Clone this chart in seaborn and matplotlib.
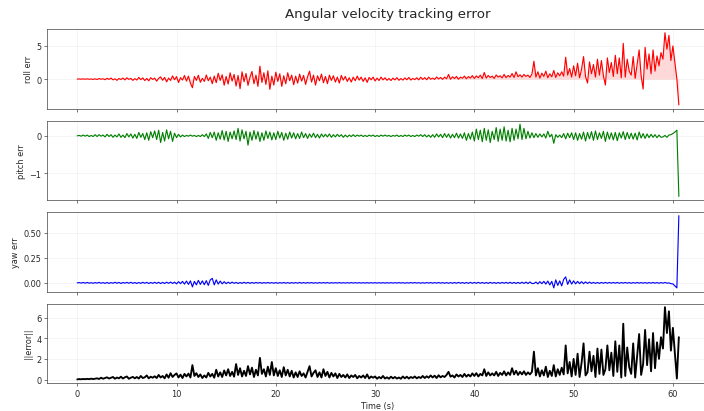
import numpy as np
import pandas as pd
import matplotlib
matplotlib.use("Agg")
import matplotlib.pyplot as plt
import matplotlib.ticker as mticker
import seaborn as sns

# samples every 0.2 s, 5 per second, two seconds per row (0 .. 60.6 s)
roll_err = [
    0.00, 0.02, -0.01, 0.03, -0.02,   0.04, -0.03, 0.02, -0.05, 0.04,
    -0.06, 0.08, -0.02, 0.05, -0.09,  0.12, -0.05, 0.16, -0.11, 0.04,
    -0.18, 0.09, -0.06, 0.15, -0.12,  0.20, -0.04, 0.10, -0.19, 0.07,
    -0.14, 0.25, -0.08, 0.18, -0.22,  0.10, -0.26, 0.21, -0.05, 0.14,
    -0.31, 0.12, 0.33, -0.18, 0.26,   -0.42, 0.15, -0.20, 0.48, -0.10,
    0.38, -0.52, 0.22, -0.15, 0.55,   -0.30, 0.45, -0.62, -1.30, 0.40,
    -0.20, 0.58, -0.48, 0.12, -0.35,  0.62, -0.25, 0.30, -0.70, 0.45,
    -0.55, 0.88, -0.20, 0.65, -0.92,  0.40, -0.75, 0.95, -0.30, 0.70,
    -1.05, 0.55, -1.45, 1.10, -0.40,  0.85, -0.95, 0.30, 1.15, -0.70,
    0.60, -1.10, 1.95, -0.50, 0.95,   -0.80, 1.25, -1.55, 0.45, -0.90,
    1.05, -0.35, 0.80, -1.10, 0.50,   -0.70, 0.95, -0.25, 0.60, -0.85,
    0.45, -0.60, 0.75, -0.30, 0.55,   -0.80, 0.35, 1.20, -0.45, 0.60,
    -0.90, 0.50, -0.25, 0.75, -0.55,  0.40, -0.70, 0.60, -0.20, 0.50,
    -0.45, 0.30, -0.60, 0.55, -0.15,  0.40, -0.35, 0.20, -0.45, 0.30,
    -0.25, 0.45, -0.15, 0.30, -0.35,  0.20, -0.50, 0.25, -0.10, 0.30,
    -0.28, 0.15, -0.22, 0.30, -0.12,  0.20, -0.18, 0.10, -0.22, 0.15,
    -0.12, 0.22, -0.18, 0.08, -0.15,  0.18, -0.10, 0.25, -0.14, 0.10,
    -0.08, 0.20, -0.12, 0.28, -0.05,  0.22, -0.10, 0.30, -0.02, 0.15,
    -0.05, 0.32, 0.02, 0.25, -0.04,   0.30, 0.05, 0.70, -0.02, 0.35,
    0.08, 0.40, -0.02, 0.30, 0.12,    0.45, 0.05, 0.38, 0.15, 0.52,
    0.10, 0.48, 0.20, 0.60, 0.08,     1.00, 0.15, 0.55, 0.25, 0.45,
    0.10, 0.62, 0.30, 0.50, 0.18,     0.70, 0.22, 0.55, 0.30, 0.85,
    0.25, 1.10, 0.35, 0.65, 0.30,     0.70, 0.40, 0.60, 0.25, 0.75,
    2.70, 0.30, 1.10, 0.15, 0.90,     0.40, 1.20, 0.20, 0.80, 0.35,
    1.30, 0.25, 0.95, 0.50, 1.10,     0.45, 3.30, 0.60, 1.60, 0.30,
    2.00, 0.50, 2.40, 0.20, 1.50,     3.40, 0.40, -0.60, 2.60, 0.80,
    2.20, 0.30, 3.00, 0.60, 2.80,     0.50, -0.90, 3.20, 1.00, 2.50,
    0.40, 3.60, 0.80, 3.20, 0.20,     5.40, 0.30, 3.00, 1.20, 0.60,
    3.40, 0.10, 2.20, 4.40, 0.50,     -1.50, 4.80, 1.50, 3.80, 0.80,
    4.40, 1.20, 3.50, 2.00, 4.00,     3.00, 7.00, 4.50, 6.60, 2.80,
    5.00, 2.50, 0.00, -3.90,
]

pitch_err = [
    0.00, 0.01, -0.01, 0.02, -0.01,   0.02, -0.02, 0.01, -0.02, 0.03,
    -0.02, 0.03, -0.01, 0.02, -0.03,  0.04, -0.02, 0.03, -0.04, 0.02,
    -0.03, 0.05, -0.04, 0.02, -0.05,  0.06, -0.03, 0.05, -0.06, 0.04,
    -0.07, 0.09, -0.04, 0.06, -0.10,  0.08, -0.12, 0.11, -0.05, 0.13,
    -0.10, 0.15, -0.18, 0.09, -0.14,  0.16, -0.08, 0.12, -0.15, 0.07,
    -0.05, 0.04, -0.03, 0.02, -0.02,  0.01, -0.01, 0.02, -0.01, 0.01,
    -0.02, 0.01, -0.02, 0.03, -0.02,  0.05, -0.07, 0.09, -0.05, 0.10,
    -0.12, 0.08, -0.09, 0.14, -0.11,  0.12, -0.15, 0.10, -0.08, 0.13,
    -0.10, 0.20, -0.14, 0.16, -0.08,  0.12, -0.25, 0.10, -0.12, 0.14,
    -0.09, 0.11, -0.15, 0.08, -0.12,  0.13, -0.07, 0.10, -0.11, 0.08,
    -0.10, 0.12, -0.06, 0.09, -0.12,  0.07, -0.09, 0.10, -0.06, 0.08,
    -0.08, 0.06, -0.07, 0.10, -0.05,  0.06, -0.07, 0.05, -0.04, 0.07,
    -0.05, 0.04, -0.06, 0.05, -0.03,  0.04, -0.03, 0.05, -0.04, 0.03,
    -0.03, 0.04, -0.02, 0.03, -0.04,  0.02, -0.03, 0.02, -0.02, 0.03,
    -0.02, 0.02, -0.01, 0.02, -0.02,  0.01, -0.02, 0.02, -0.01, 0.02,
    -0.02, 0.01, -0.02, 0.02, -0.01,  0.02, -0.01, 0.01, -0.02, 0.01,
    -0.01, 0.02, -0.02, 0.01, -0.02,  0.02, -0.01, 0.02, -0.02, 0.01,
    -0.02, 0.02, -0.01, 0.03, -0.02,  0.03, -0.03, 0.02, -0.04, 0.03,
    -0.04, 0.05, -0.03, 0.04, -0.05,  0.06, -0.04, 0.05, -0.06, 0.04,
    -0.05, 0.07, -0.06, 0.05, -0.07,  0.08, -0.12, 0.06, -0.09, 0.10,
    -0.14, 0.18, -0.10, 0.15, -0.16,  0.20, -0.12, 0.16, -0.18, 0.12,
    -0.10, 0.22, -0.15, 0.18, -0.12,  0.24, -0.14, 0.15, -0.16, 0.20,
    -0.12, 0.18, -0.08, 0.31, -0.10,  0.20, -0.08, 0.12, -0.06, 0.08,
    -0.05, 0.06, -0.04, 0.05, -0.03,  0.05, -0.06, 0.12, -0.03, 0.04,
    -0.20, 0.03, -0.04, 0.02, -0.05,  0.06, -0.08, 0.07, -0.05, 0.08,
    -0.10, 0.08, -0.12, 0.06, -0.09,  0.10, -0.14, 0.09, -0.08, 0.11,
    -0.12, 0.13, -0.10, 0.08, -0.07,  0.12, -0.15, 0.10, -0.09, 0.08,
    -0.11, 0.09, -0.13, 0.08, -0.06,  0.11, -0.10, 0.09, -0.08, 0.07,
    -0.09, 0.07, -0.11, 0.10, -0.06,  0.06, -0.07, 0.05, -0.05, 0.04,
    -0.04, 0.03, -0.05, 0.02, -0.04,  -0.03, 0.01, -0.04, 0.02, 0.03,
    0.06, 0.10, 0.15, -1.62,
]

yaw_err = [
    0.000, 0.003, -0.002, 0.004, -0.003,   0.004, -0.003, 0.002, -0.004, 0.003,
    -0.003, 0.005, -0.004, 0.003, -0.005,  0.004, -0.005, 0.003, -0.004, 0.006,
    -0.004, 0.005, -0.006, 0.004, -0.003,  0.005, -0.004, 0.006, -0.005, 0.004,
    -0.006, 0.004, -0.005, 0.006, -0.004,  0.005, -0.006, 0.004, -0.005, 0.006,
    -0.005, 0.006, -0.007, 0.005, -0.006,  0.007, -0.005, 0.008, -0.006, 0.007,
    -0.010, 0.012, -0.008, 0.015, -0.012,  0.018, -0.015, 0.020, -0.040, 0.015,
    -0.020, 0.025, -0.015, 0.020, -0.018,  0.022, -0.025, 0.030, 0.045, -0.020,
    0.030, -0.012, 0.018, -0.010, 0.012,   -0.008, 0.007, -0.006, 0.008, -0.005,
    0.005, -0.006, 0.004, -0.005, 0.006,   -0.004, 0.005, -0.005, 0.004, -0.004,
    0.004, -0.003, 0.004, -0.004, 0.003,   -0.003, 0.004, -0.003, 0.003, -0.004,
    0.003, -0.004, 0.003, -0.003, 0.004,   -0.003, 0.003, -0.004, 0.003, -0.003,
    0.003, -0.003, 0.004, -0.003, 0.003,   -0.003, 0.003, -0.002, 0.003, -0.003,
    0.002, -0.003, 0.003, -0.002, 0.003,   -0.002, 0.003, -0.003, 0.002, -0.002,
    0.002, -0.002, 0.003, -0.002, 0.002,   -0.002, 0.002, -0.002, 0.003, -0.002,
    0.002, -0.002, 0.002, -0.002, 0.002,   -0.002, 0.002, -0.002, 0.002, -0.002,
    0.002, -0.002, 0.002, -0.002, 0.002,   -0.002, 0.002, -0.002, 0.002, -0.002,
    0.002, -0.002, 0.003, -0.002, 0.002,   -0.003, 0.002, -0.002, 0.003, -0.002,
    0.003, -0.002, 0.002, -0.003, 0.002,   -0.003, 0.003, -0.002, 0.003, -0.003,
    0.003, -0.003, 0.004, -0.003, 0.003,   -0.004, 0.003, -0.004, 0.003, -0.004,
    0.004, -0.004, 0.005, -0.004, 0.004,   -0.005, 0.004, -0.005, 0.005, -0.004,
    0.004, -0.004, 0.005, -0.004, 0.004,   -0.005, 0.004, -0.005, 0.005, -0.004,
    0.004, -0.005, 0.004, -0.005, 0.005,   -0.004, 0.005, -0.005, 0.006, -0.005,
    0.005, -0.006, 0.005, -0.006, 0.007,   -0.006, 0.008, -0.007, 0.009, -0.006,
    -0.006, 0.008, -0.010, 0.012, -0.008,  0.015, -0.012, 0.018, -0.020, 0.015,
    -0.050, 0.030, -0.025, 0.020, -0.030,  0.035, 0.060, -0.015, 0.030, -0.012,
    0.020, -0.010, 0.015, -0.008, 0.012,   -0.008, 0.010, -0.006, 0.008, -0.005,
    0.005, -0.005, 0.004, -0.005, 0.004,   -0.004, 0.005, -0.004, 0.004, -0.003,
    0.004, -0.003, 0.004, -0.004, 0.003,   -0.003, 0.004, -0.003, 0.003, -0.004,
    0.003, -0.003, 0.004, -0.003, 0.003,   -0.003, 0.003, -0.004, 0.003, -0.003,
    0.004, -0.003, 0.003, -0.004, 0.003,   -0.003, 0.004, -0.003, 0.000, -0.008,
    -0.010, -0.030, -0.050, 0.670,
]

error_norm = [
    0.02, 0.05, 0.03, 0.06, 0.04,   0.07, 0.04, 0.09, 0.05, 0.08,
    0.12, 0.06, 0.18, 0.08, 0.15,   0.22, 0.10, 0.17, 0.25, 0.08,
    0.20, 0.12, 0.28, 0.10, 0.22,   0.30, 0.08, 0.18, 0.26, 0.12,
    0.25, 0.10, 0.35, 0.15, 0.22,   0.40, 0.12, 0.28, 0.18, 0.32,
    0.15, 0.45, 0.20, 0.35, 0.12,   0.50, 0.18, 0.62, 0.25, 0.45,
    0.60, 0.20, 0.48, 0.15, 0.55,   0.30, 0.58, 0.20, 1.40, 0.35,
    0.62, 0.25, 0.50, 0.15, 0.40,   0.20, 0.65, 0.30, 0.55, 0.18,
    0.95, 0.30, 0.70, 0.25, 0.88,   0.40, 1.00, 0.35, 0.75, 0.28,
    1.50, 0.45, 1.10, 0.30, 0.85,   0.35, 1.30, 0.50, 1.15, 0.25,
    0.95, 0.40, 2.10, 0.55, 1.00,   0.30, 1.25, 0.45, 1.70, 0.40,
    1.10, 0.35, 0.90, 0.25, 1.20,   0.40, 0.95, 0.30, 0.85, 0.20,
    0.70, 0.25, 0.80, 0.35, 0.60,   0.20, 0.75, 1.30, 0.30, 0.65,
    0.90, 0.25, 0.70, 0.20, 1.00,   0.35, 0.75, 0.20, 0.65, 0.30,
    0.60, 0.15, 0.55, 0.25, 0.45,   0.20, 0.50, 0.15, 0.40, 0.25,
    0.45, 0.12, 0.35, 0.20, 0.40,   0.15, 0.50, 0.10, 0.30, 0.18,
    0.30, 0.08, 0.25, 0.12, 0.35,   0.10, 0.22, 0.08, 0.28, 0.12,
    0.25, 0.10, 0.20, 0.08, 0.30,   0.12, 0.28, 0.10, 0.25, 0.15,
    0.30, 0.12, 0.25, 0.15, 0.35,   0.15, 0.32, 0.18, 0.40, 0.20,
    0.38, 0.15, 0.42, 0.22, 0.35,   0.25, 0.45, 0.75, 0.28, 0.40,
    0.20, 0.50, 0.30, 0.45, 0.25,   0.55, 0.28, 0.48, 0.30, 0.60,
    0.35, 0.62, 0.30, 0.55, 0.40,   1.00, 0.35, 0.70, 0.40, 0.60,
    0.40, 0.75, 0.35, 0.65, 0.45,   0.80, 0.40, 0.70, 0.45, 1.10,
    0.50, 0.85, 0.45, 0.75, 0.50,   0.80, 0.45, 0.70, 0.50, 0.75,
    2.70, 0.40, 1.10, 0.30, 0.90,   0.40, 1.25, 0.25, 0.85, 0.35,
    1.40, 0.30, 1.00, 0.45, 1.15,   0.50, 3.30, 0.60, 1.70, 0.30,
    2.00, 0.45, 2.50, 0.25, 1.60,   3.50, 0.40, 0.70, 2.70, 0.80,
    2.30, 0.25, 3.00, 0.55, 2.90,   0.45, 1.00, 3.30, 0.90, 2.60,
    0.35, 3.70, 0.75, 3.30, 0.20,   5.40, 0.35, 3.10, 1.20, 0.55,
    3.50, 0.20, 2.30, 4.40, 0.45,   1.50, 4.80, 1.40, 3.90, 0.80,
    4.50, 1.10, 3.60, 2.00, 4.10,   3.00, 7.00, 4.50, 6.60, 2.80,
    5.00, 2.50, 0.10, 4.10,
]

time_s = np.arange(len(roll_err)) * 0.2

panel_labels = ["roll err", "pitch err", "yaw err", "||error||"]
panel_colors = ["red", "green", "blue", "black"]
panel_yticks = [[0, 5], [-1, 0], [0.0, 0.25, 0.5], [0, 2, 4, 6]]
title_text = "Angular velocity tracking error"
xlabel_text = "Time (s)"
xticks = [0, 10, 20, 30, 40, 50, 60]

df = pd.DataFrame({"t": time_s, "roll": roll_err, "pitch": pitch_err,
                   "yaw": yaw_err, "norm": error_norm})

sns.set_style("ticks")
plt.rcParams["font.family"] = ["DejaVu Sans"]

fig, axes = plt.subplots(4, 1, sharex=True, figsize=(12, 7.022), dpi=58.667)
cols = ["roll", "pitch", "yaw", "norm"]
widths = [1.4, 1.4, 1.4, 2.3]
for ax, col, lab, colr, yt, lw in zip(axes, cols, panel_labels, panel_colors, panel_yticks, widths):
    sns.lineplot(data=df, x="t", y=col, ax=ax, color=colr, linewidth=lw)
    if col == "roll":
        ax.fill_between(df["t"], 0, df["roll"], color="red", alpha=0.15, linewidth=0)
    ax.set_ylabel(lab, fontsize=10)
    ax.set_xlabel("")
    ax.set_yticks(yt)
    ax.grid(True, alpha=0.3)
    for s in ax.spines.values():
        s.set_visible(True)
        s.set_color("#333333")
    ax.tick_params(labelsize=10, color="#333333")

axes[2].yaxis.set_major_formatter(mticker.FormatStrFormatter("%.2f"))
axes[3].set_xticks(xticks)
axes[3].set_xlabel(xlabel_text, fontsize=10)
fig.suptitle(title_text, fontsize=16.5, x=0.551, y=0.966, va="center")
fig.subplots_adjust(left=0.067, right=1.007, top=0.927, bottom=0.068, hspace=0.152)
fig.savefig("out.png", dpi=58.667)
